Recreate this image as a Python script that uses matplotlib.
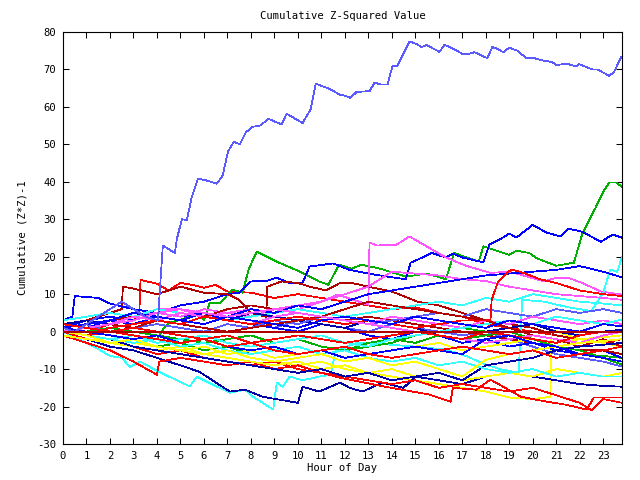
import matplotlib
matplotlib.use("Agg")
import matplotlib.pyplot as plt

# ---------------- colours ----------------
RED = "#ff0000"
GREEN = "#00b000"
BLUE = "#0000ff"
NAVY = "#0000a8"
SLATE = "#5a5aff"
MAGENTA = "#ff55ff"
CYAN = "#33ffff"
DKRED = "#b00000"
YELLOW = "#ffff00"

# ---------------- data ----------------
HOURS = [0, 1, 2, 3, 4, 5, 6, 7, 8, 9, 10, 11, 12, 13, 14, 15, 16, 17, 18, 19,
         20, 21, 22, 23, 23.8]

slate_big_h = [0, 0.5, 1, 1.5, 2, 2.5, 3, 3.5, 4.04, 4.25, 4.76, 4.85, 5.06, 5.27, 5.48, 5.74,
               6.04, 6.55, 6.8, 7.02, 7.27, 7.53, 7.78, 8.08, 8.38, 8.76, 9.31, 9.52, 10.2, 10.54,
               10.76, 10.93, 11.35, 11.78, 11.99, 12.24, 12.5, 13.05, 13.27, 13.52, 13.82, 14.03,
               14.24, 14.75, 15.05, 15.26, 15.48, 16.03, 16.24, 16.62, 17.0, 17.3, 17.52, 17.73,
               18.07, 18.28, 18.49, 18.75, 19.0, 19.35, 19.73, 20.07, 20.49, 20.83, 21.0, 21.47,
               21.85, 21.98, 22.53, 22.75, 23.26, 23.47, 23.77]
slate_big_v = [1, 0, 2, 4, 6, 8, 6, 4, 3, 23, 21, 24.8, 30, 29.8, 35.8, 40.8,
               40.5, 39.5, 41.7, 48, 50.7, 50, 53.2, 54.7, 55, 56.8, 55.3, 58.2, 55.7, 59.3,
               66.2, 65.8, 64.8, 63.3, 63, 62.4, 64, 64.2, 66.5, 66, 66, 71,
               71, 77.5, 76.8, 76, 76.5, 74.7, 76.6, 75.5, 74.2, 74.2, 74.6, 74,
               73, 76, 75.5, 74.6, 75.8, 75, 73, 73, 72.3, 72, 71.2, 71.5,
               70.8, 71.4, 70, 70, 68.3, 69.4, 73.4]

green_big_h = [0, 1, 2, 3, 4, 4.3, 4.55, 5.0, 5.4, 5.8, 6.0, 6.25, 6.7, 7.2, 7.65, 7.9, 8.25,
               9.2, 10.1, 10.9, 11.3, 11.75, 12.3, 12.7, 13.5, 14.6, 15.5, 16.3, 16.65, 17.7,
               17.9, 19.0, 19.3, 19.85, 20.2, 21.0, 21.75, 22.1, 22.7, 23.05, 23.26, 23.55, 23.8]
green_big_v = [0, -1, -2, -3, -2, 1, 2.4, 3.2, 4, 5, 3, 7.7, 7.7, 11.2, 10.4, 16.6, 21.4,
               18.4, 16, 13.4, 12.5, 17.9, 16.8, 17.9, 16.8, 14.7, 15.5, 14, 21, 18.7,
               22.8, 20.5, 21.6, 21, 19.5, 17.6, 18.4, 25.9, 33.4, 37.9, 39.8, 39.8, 38.7]

blue_top_h = [0, 1, 2, 3, 4, 5, 6, 7, 7.5, 8.0, 8.7, 9.1, 9.65, 10.2, 10.5, 11.5, 12.2, 13.0,
              14.0, 14.6, 14.8, 15.3, 15.7, 16.3, 16.6, 17.0, 17.9, 18.15, 18.6, 19.0, 19.3,
              20.0, 20.6, 21.2, 21.5, 22.1, 22.9, 23.4, 23.8]
blue_top_v = [1, 3, 4, 3, 5, 7, 8, 10, 10.4, 13.4, 13.6, 14.4, 13, 13, 17.4, 18.2, 16.5, 15.5,
              14.5, 14, 18.4, 19.8, 21, 19.8, 20.8, 19.8, 18.5, 23.2, 24.6, 26.2, 25.1,
              28.5, 26.4, 25.4, 27.5, 26.7, 24, 25.9, 25.1]

magenta_jump_h = [0, 1, 2, 3, 4, 5, 6, 7, 8, 9, 10, 11, 11.7, 12.6, 13.0, 13.05, 13.35, 14.2,
                  14.75, 15.5, 16.3, 17.2, 18.2, 19.0, 19.6, 20.5, 21.0, 21.5, 22.1, 22.9, 23.8]
magenta_jump_v = [2, 3, 5, 4, 6, 6, 4, 5, 4, 6, 7, 8, 9.9, 8, 7.2, 23.8, 23, 23.2,
                  25.4, 22.7, 19.8, 17.5, 15.7, 16, 15, 13.4, 14.4, 14.4, 13, 10.7, 9.9]

cyan_deep_h = [0, 0.5, 1, 1.6, 2.0, 2.5, 2.85, 3.3, 4.0, 5.4, 5.7, 6.5, 7.1, 7.75, 8.1, 8.95,
               9.1, 9.35, 9.65, 10.2, 10.9, 11.4, 11.6, 12.5, 14, 15, 16.3, 17.2, 18.0, 18.6,
               19.4, 19.55, 20.5, 21.5, 22.5, 23.0, 23.3, 23.6, 23.8]
cyan_deep_v = [0, -1.5, -3, -5, -6.5, -7, -9.4, -8, -10.5, -14.6, -12, -14.5, -16.3, -15.5, -17.4,
               -20.8, -13.6, -14.7, -12, -13, -12, -11.5, -5.3, -3, -3.5, -4, -4.8, -6.6, -8.8,
               -10, -11, 8.5, 8, 6.5, 5.5, 10.4, 16.6, 16, 20]

dkred_jump_h = [0, 1, 2, 2.5, 2.55, 3, 4, 5, 6, 7, 7.5, 8, 8.65, 8.7, 9.3, 10, 10.5, 11.2, 11.8,
                12.3, 13, 14, 15.1, 16, 17, 18, 19, 20, 21, 22, 23, 23.8]
dkred_jump_v = [2, 3, 5, 6, 12, 11.5, 10, 12, 10.4, 10, 8.5, 5, 4, 12, 13.4, 13, 12, 11, 13,
                13, 12, 10.7, 8, 7, 5, 3, 2, 1, -1, -2, -3, -4]

red_early_h = [0, 1, 2, 3, 3.25, 3.3, 4.0, 4.5, 5.0, 5.5, 6.0, 6.5, 7.0, 8.0, 9, 10, 11, 12, 13,
               14, 15, 16, 17, 18, 19, 20, 21, 22, 23, 23.8]
red_early_v = [1, 0, 2, 3, 5, 13.8, 12.8, 11, 13, 12.5, 11.7, 12.5, 10.7, 10.4, 9, 10, 9, 8, 7,
               6, 6.5, 5, 4, 2, 1, 0, -1, -2, -3, -2]

red_late_h = [0, 1, 2, 3, 4, 5, 6, 7, 8, 9, 10, 11, 12, 13, 14, 15, 16, 17, 18, 18.2, 18.25,
              18.5, 18.9, 19.1, 19.6, 20.3, 21, 22, 23, 23.8]
red_late_v = [0, -1, 1, 2, 3, 2, 4, 3, 2, 3, 4, 3, 2, 3, 2, 1, 2, 3, 3, 3.2, 8.5,
              13, 15.7, 16.6, 15.7, 14, 13, 11, 10, 9.5]

yellow_jump_h = [0, 1, 2, 3, 4, 5, 6, 7, 8, 9, 10, 11, 12, 13, 14, 15, 16, 17, 18, 19, 20,
                 20.75, 20.8, 21.5, 22, 23, 23.8]
yellow_jump_v = [0, -1, -2, -3, -4, -5, -6, -5, -7, -8, -9, -8, -10, -11, -12, -13, -14, -15,
                 -16, -17.6, -18, -17.4, 0.5, -1, -2, -3, -4]

navy_low_h = [0, 1, 2, 3, 4, 5, 5.8, 7.1, 7.75, 8.5, 10.0, 10.2, 10.9, 11.8, 12.2, 12.75, 13.6,
              14.5, 15, 16, 17, 18, 19, 20, 21, 22, 23, 23.8]
navy_low_v = [0, -2, -4, -5, -7, -9, -10.7, -16, -15.5, -17.4, -19, -14.7, -16, -13.6, -15, -16,
              -13.6, -15, -12, -13, -14, -12, -11, -12, -13, -14, -14.5, -14.7]

red_low_h = [0, 1, 2, 3, 4, 5, 6, 7, 8, 9, 10, 11, 11.8, 13.7, 15.6, 16.5, 16.6, 17.6, 18.2,
             19.5, 20.6, 21.4, 22.3, 22.6, 23.8]
red_low_v = [0, -2, -3, -4, -6, -5, -7, -8, -9, -8, -10, -11, -12.3, -14.7, -16.8, -18.7, -15,
             -15.5, -12.8, -17.4, -18.7, -19.5, -20.8, -17.6, -17.6]

red_low2_h = [0, 1, 2, 3, 4, 4.1, 5, 6, 7, 8, 9, 10, 11, 12, 13, 14, 15, 16, 17, 18, 19, 20,
              21, 22, 22.5, 23, 23.8]
red_low2_v = [-1, -3, -5, -8, -11.5, -8, -7, -8, -9, -8, -10, -9, -11, -12, -13, -14, -13, -15,
              -14, -15, -16, -15, -17, -19, -21, -18, -19]

blue_early_h = [0, 0.4, 0.5, 1.5, 2.0, 3, 4, 5, 6, 7, 8, 9, 10, 11, 12, 13, 14, 15, 16, 17,
                18, 19, 20, 21, 22, 23, 23.8]
blue_early_v = [3, 4, 9.5, 9, 7.5, 6, 5, 4, 5, 3, 2, 1, 0, 2, 1, -1, -2, 0, -1, -3,
                -2, -4, -3, -5, -6, -5, -7]

# hourly-sampled lines of the bundle
green_2 = [0, -1, -2, -3, -4, -3, -5, -4, -6, -5, -4, -6, -5, -4, -3, -1, 0, 1, 0, -1, -3, -5, -6, -6.5, -7]
green_3 = [1, 0, 1, 0, -1, -2, -3, -2, -1, -3, -2, -4, -5, -3, -2, -3, -1, -2, -1, 0, -2, -4, -5, -7, -8.8]
navy_e = [2, 3, 2, 4, 3, 5, 4, 3, 5, 4, 3, 2, 1, 3, 2, 1, -1, -2, 0, 1, 2, 0, -1, 0, 0.5]
blue_f = [0, 1, 3, 5, 4, 3, 2, 4, 3, 2, 1, 3, 4, 3, 2, 4, 3, 2, 1, 3, 2, 1, 0, 2, 1.4]
blue_g = [1, 0, -1, -2, -1, -3, -2, -4, -5, -4, -6, -5, -7, -6, -5, -4, -5, -6, -2, -1, -3, -4, -6, -7, -8]
slate_2 = [0, 1, 2, 1, 3, 2, 4, 3, 2, 1, 3, 2, 1, 0, 2, 1, 0, -1, 0, -2, -4, -6, -7, -8, -9.3]
slate_3 = [1, 2, 0, 1, 2, 1, 0, 2, 1, 3, 2, 4, 3, 2, 3, 4, 5, 4, 6, 5, 4, 6, 5, 6, 5]
magenta_3 = [0, 1, 2, 4, 3, 5, 4, 3, 2, 4, 5, 4, 3, 2, 4, 3, 2, 1, 3, 2, 4, 3, 2, 3, 2]
magenta_2 = [2, 1, 3, 4, 5, 4, 6, 5, 6, 5, 6, 8, 10, 12, 16, 15.5, 15, 14, 13.5, 12, 11, 10, 9.5, 9, 8.5]
blue_b1 = [1, 2, 3, 2, 4, 3, 5, 4, 6, 5, 7, 6, 8, 10, 11, 12, 13, 14, 15, 15.5, 16, 16.5, 17.5, 16, 14.5]
cyan_2 = [3, 4, 5, 4, 6, 5, 4, 3, 4, 5, 6, 5, 4, 5, 6, 7, 8, 7, 9, 8, 10, 9, 8, 7.5, 7]
cyan_3 = [0, -1, -2, -1, -3, -2, -1, -3, -4, -3, -2, -1, -3, -4, -2, -1, 0, 1, 2, 3, 2, 4, 3, 2, 3.2]
dkred_2 = [1, 2, 3, 4, 3, 5, 4, 6, 7, 6, 5, 4, 3, 4, 3, 2, 1, 0, -1, -2, -3, -4, -5, -5, -6]
dkred_3 = [0, 1, 2, 1, 3, 2, 1, 0, 1, 2, 3, 4, 6, 8, 7, 6, 5, 4, 3, 1, -1, -2, -4, -2, -4]
red_4 = [0, -1, 0, 1, 0, -1, -2, -1, -3, -2, -1, -2, -3, -2, -1, 0, -1, -2, 0, -1, -2, -3, -1, 0, 0]
red_5 = [2, 1, 0, -1, -2, -3, -2, -4, -3, -5, -6, -5, -4, -6, -7, -6, -5, -4, -5, -6, -5, -7, -6, -5, -4]
yellow_2 = [0, -1, -2, -3, -4, -5, -4, -6, -5, -7, -6, -5, -4, -6, -5, -4, -3, -5, -4, -3, -2, -3, -2, -1.5, -1]
yellow_3 = [-1, -2, -3, -4, -5, -4, -6, -7, -8, -9, -8, -10, -9, -11, -10, -12, -11, -13, -12, -11, -12, -10, -11, -12, -11]
yellow_4 = [0, -1, -3, -2, -4, -5, -6, -5, -7, -8, -7, -6, -8, -7, -9, -8, -10, -12, -7.5, -6, -5, -4, -3, -2.5, -2]
magenta_4 = [0, 1, 2, 3, 5, 6, 5, 4, 5, 6, 5, 4, 3, 2, 1, 0, -1, -2, -3, -2, -1, -2, -3, -1, 0]
cyan_4 = [0, -1, -2, -3, -2, -4, -3, -5, -6, -5, -4, -6, -5, -7, -8, -7, -9, -8, -10, -11, -10, -12, -11, -12, -12]
navy_2 = [0, -1, -2, -4, -5, -6, -7, -8, -9, -10, -11, -10, -12, -11, -13, -12, -11, -13, -9, -8, -7, -5, -4, -3.5, -3]

X_TICKS = list(range(0, 24))
Y_TICKS = list(range(-30, 81, 10))

TITLE = "Cumulative Z-Squared Value"
XLABEL = "Hour of Day"
YLABEL = "Cumulative (Z*Z)-1"

series = [
    (RED, red_early_h, red_early_v),
    (GREEN, green_big_h, green_big_v),
    (BLUE, blue_top_h, blue_top_v),
    (MAGENTA, magenta_jump_h, magenta_jump_v),
    (CYAN, cyan_deep_h, cyan_deep_v),
    (DKRED, dkred_jump_h, dkred_jump_v),
    (YELLOW, yellow_jump_h, yellow_jump_v),
    (NAVY, navy_low_h, navy_low_v),
    (SLATE, HOURS, slate_2),
    (RED, red_low_h, red_low_v),
    (GREEN, HOURS, green_2),
    (BLUE, blue_early_h, blue_early_v),
    (MAGENTA, HOURS, magenta_2),
    (CYAN, HOURS, cyan_2),
    (DKRED, HOURS, dkred_2),
    (YELLOW, HOURS, yellow_2),
    (NAVY, HOURS, navy_e),
    (SLATE, HOURS, slate_3),
    (RED, red_low2_h, red_low2_v),
    (GREEN, HOURS, green_3),
    (BLUE, HOURS, blue_b1),
    (MAGENTA, HOURS, magenta_3),
    (CYAN, HOURS, cyan_3),
    (DKRED, HOURS, dkred_3),
    (YELLOW, HOURS, yellow_3),
    (NAVY, HOURS, navy_2),
    (RED, red_late_h, red_late_v),
    (BLUE, HOURS, blue_f),
    (MAGENTA, HOURS, magenta_4),
    (CYAN, HOURS, cyan_4),
    (RED, HOURS, red_4),
    (YELLOW, HOURS, yellow_4),
    (BLUE, HOURS, blue_g),
    (RED, HOURS, red_5),
    (SLATE, slate_big_h, slate_big_v),
]

FONT = "DejaVu Sans Mono"
FS = 7.6

fig = plt.figure(figsize=(6.4, 4.8), dpi=100)
ax = fig.add_axes([63 / 640, 1 - 444 / 480, (622 - 63) / 640, (444 - 32) / 480])

for color, xs, ys in series:
    ax.plot(xs, ys, color=color, lw=0.55, antialiased=False, zorder=2)

ax.axhline(0, color="#b00000", lw=1.2, antialiased=False, zorder=3)

ax.set_xlim(0, 23.8)
ax.set_ylim(-30, 80)
ax.set_xticks(X_TICKS)
ax.set_yticks(Y_TICKS)
ax.set_xticklabels([str(t) for t in X_TICKS], fontsize=FS, family=FONT)
ax.set_yticklabels([str(t) for t in Y_TICKS], fontsize=FS, family=FONT)
ax.tick_params(direction="in", length=4.3, width=0.75, top=True, right=True, pad=5)
for sp in ax.spines.values():
    sp.set_linewidth(0.8)

ax.set_xlabel(XLABEL, fontsize=FS, family=FONT)
ax.xaxis.set_label_coords(0.5, -0.045)
ax.set_ylabel(YLABEL, fontsize=FS, family=FONT)
ax.yaxis.set_label_coords(-0.064, 0.5)
fig.text((63 + 622) / 2 / 640, 1 - 16 / 480, TITLE, fontsize=FS, family=FONT,
         ha="center", va="center")

fig.savefig("out.png", dpi=100)
